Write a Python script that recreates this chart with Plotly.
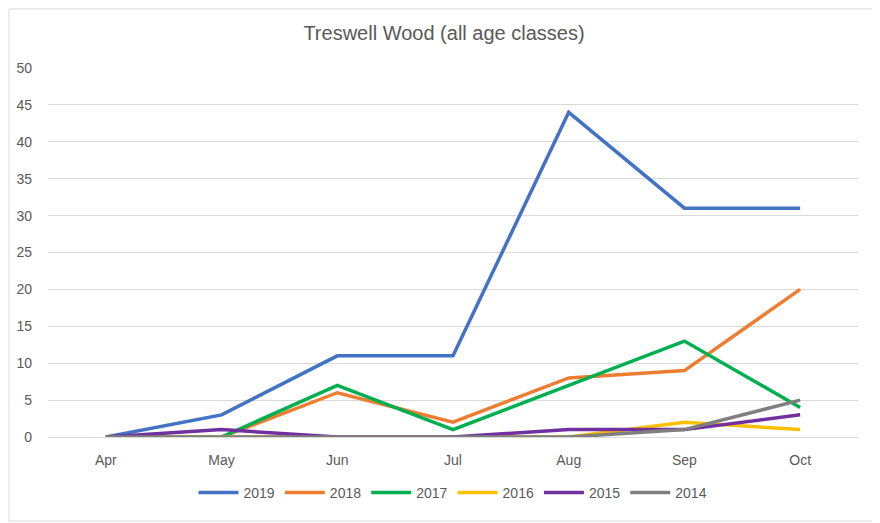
import plotly.graph_objects as go

months = ["Apr", "May", "Jun", "Jul", "Aug", "Sep", "Oct"]
y2019 = [0, 3, 11, 11, 44, 31, 31]
y2018 = [0, 0, 6, 2, 8, 9, 20]
y2017 = [0, 0, 7, 1, 7, 13, 4]
y2016 = [0, 0, 0, 0, 0, 2, 1]
y2015 = [0, 1, 0, 0, 1, 1, 3]
y2014 = [0, 0, 0, 0, 0, 1, 5]

series = [
    ("2019", y2019, "#4472C4"),
    ("2018", y2018, "#ED7D31"),
    ("2017", y2017, "#00B050"),
    ("2016", y2016, "#FFC000"),
    ("2015", y2015, "#7030A0"),
    ("2014", y2014, "#7F7F7F"),
]

fig = go.Figure()
for name, vals, color in series:
    fig.add_trace(go.Scatter(x=months, y=vals, name=name, mode="lines",
                             line=dict(color=color, width=3.5)))

# page is drawn with an 8px body margin, so the figure is a bit smaller
W, H = 872, 515
L, R, T, B = 40, 22, 60, 86
pw, ph = W - L - R, H - T - B

fig.update_layout(
    width=W, height=H,
    paper_bgcolor="white", plot_bgcolor="white",
    font=dict(family="Liberation Sans, Arial", size=14, color="#595959"),
    title=dict(text="Treswell Wood (all age classes)", x=0.5, xanchor="center",
               y=1 - 25 / H, yanchor="middle", font=dict(size=20, color="#595959")),
    margin=dict(l=L, r=R, t=T, b=B),
    showlegend=True,
    legend=dict(orientation="h", x=0.5, xanchor="center", y=-56 / ph, yanchor="middle",
                font=dict(size=14, color="#595959"), itemwidth=40),
    shapes=[dict(type="rect", xref="paper", yref="paper",
                 x0=-(L - 1) / pw, x1=1 + (R - 2) / pw, y0=-(B - 2) / ph, y1=1 + (T - 1) / ph,
                 line=dict(color="#D9D9D9", width=1))],
)
fig.update_xaxes(range=[-0.5, 6.5], showgrid=False, showline=True, linecolor="#D9D9D9",
                 linewidth=1, ticks="", fixedrange=True, ticklabelstandoff=10, automargin=False)
fig.update_yaxes(range=[0, 50], dtick=5, showgrid=True, gridcolor="#D9D9D9", gridwidth=1,
                 zeroline=False, showline=False, ticks="", ticklabelstandoff=15, automargin=False)

fig.write_html("out.html")
